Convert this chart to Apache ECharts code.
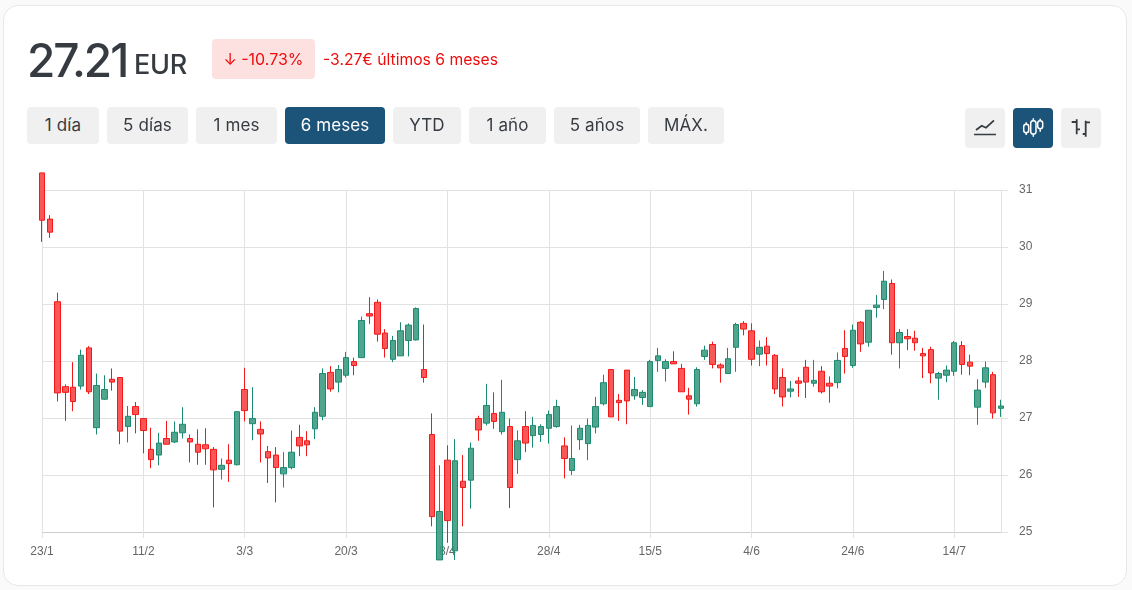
<!DOCTYPE html>
<html>
<head>
<meta charset="utf-8">
<title>27.21 EUR</title>
<script src="https://cdn.jsdelivr.net/npm/echarts@6/dist/echarts.min.js"></script>
<style>
	html, body { margin: 0; padding: 0; background: #fafafa; }
	body { width: 1132px; height: 590px; position: relative; overflow: hidden; font-family: Inter, sans-serif; color: #363b42; }
	.card { position: absolute; left: 3px; top: 5px; width: 1122px; height: 579px; background: #fff; border: 1px solid #e8e8e8; border-radius: 15px; }
	.price { position: absolute; left: 27px; top: 32px; font-size: 46px; line-height: 56px; font-weight: 500; letter-spacing: -2px; }
	.unit { position: absolute; left: 134px; top: 47px; font-size: 27px; line-height: 36px; font-weight: 500; letter-spacing: -0.3px; }
	.badge { position: absolute; left: 212px; top: 39px; width: 103px; height: 40px; line-height: 40px; background: #fde0e0; border-radius: 4px; color: #ee0d0d; font-size: 16px; text-align: center; }
	.delta { position: absolute; left: 323px; top: 40px; line-height: 40px; color: #ee0d0d; font-size: 15.7px; }
	.btn { position: absolute; top: 107px; height: 37px; line-height: 37px; background: #f0f0f0; border-radius: 4px; text-align: center; font-size: 17px; letter-spacing: 0.1px; }
	.icon { position: absolute; top: 108px; width: 40px; height: 40px; background: #f0f0f0; border-radius: 4px; }
	.on { background: #1c5378; color: #fff; }
	#chart { position: absolute; left: 0; top: 0; width: 1132px; height: 590px; }
</style>
</head>
<body>
<div class="card"></div>
<div id="chart"></div>
<div class="price">27.21</div>
<div class="unit">EUR</div>
<div class="badge">↓ -10.73%</div>
<div class="delta">-3.27€ últimos 6 meses</div>
<div class="btn" style="left:27px;width:72px">1 día</div>
<div class="btn" style="left:107px;width:81px">5 días</div>
<div class="btn" style="left:196px;width:81px">1 mes</div>
<div class="btn on" style="left:285px;width:100px">6 meses</div>
<div class="btn" style="left:393px;width:68px">YTD</div>
<div class="btn" style="left:469px;width:77px">1 año</div>
<div class="btn" style="left:554px;width:86px">5 años</div>
<div class="btn" style="left:648px;width:76px">MÁX.</div>
<div class="icon" style="left:965px">
	<svg width="40" height="40" fill="none" stroke="#363b42" stroke-width="1.7">
		<path d="M9 26.500h22M11 22l5.700-4.300 4.300 2 8-7.400"/>
	</svg>
</div>
<div class="icon on" style="left:1013px">
	<svg width="40" height="40" fill="none" stroke="#fff" stroke-width="1.5">
		<rect x="10.700" y="16.300" width="5" height="8.400" rx="2.500"/><path d="M13.200 14.300v2M13.200 24.700v2.300"/>
		<rect x="17.700" y="12.700" width="5.300" height="13.300" rx="2.600"/><path d="M20.300 10.300v2.400M20.300 26v2.700"/>
		<rect x="24.700" y="12.700" width="5" height="8" rx="2.500"/><path d="M27.200 10.700v2M27.200 20.700v3"/>
	</svg>
</div>
<div class="icon" style="left:1061px">
	<svg width="40" height="40" fill="none" stroke="#363b42" stroke-width="1.8">
		<path d="M15.700 11.300v15M10.700 14h5M15.700 21.300h3.300M24.700 12.700v16M21.700 26h3M24.700 14.300h4.300"/>
	</svg>
</div>

<script>
	// 1 etiqueta cada 13 sesiones
	const tickLabels = ['23/1', '11/2', '3/3', '20/3', '8/4', '28/4', '15/5', '4/6', '24/6', '14/7'];
	const tickEvery = 13;

	const opens = [
		31.30, 30.49, 29.04, 27.55, 27.54, 27.56, 28.23, 26.83, 27.33, 27.68,
		27.71, 26.85, 27.20, 26.99, 26.45, 26.35, 26.64, 26.58, 26.74, 26.64,
		26.54, 26.53, 26.45, 26.10, 26.26, 26.18, 27.50, 26.90, 26.80, 26.41,
		26.35, 26.02, 26.13, 26.66, 26.60, 26.81, 27.03, 27.80, 27.63, 27.75,
		27.99, 28.06, 28.83, 29.03, 28.49, 28.03, 28.09, 28.36, 28.37, 27.85,
		26.71, 24.51, 26.26, 24.67, 25.89, 25.91, 26.99, 26.91, 27.08, 26.76,
		26.85, 26.27, 26.85, 26.69, 26.71, 26.82, 26.85, 26.51, 26.08, 26.62,
		26.55, 26.84, 27.25, 27.85, 27.31, 27.84, 27.39, 27.36, 27.20, 28.01,
		27.87, 27.99, 27.87, 27.39, 27.25, 28.08, 28.29, 27.93, 27.78, 28.24,
		28.66, 28.53, 28.12, 28.26, 28.10, 27.71, 27.47, 27.65, 27.89, 27.61,
		27.82, 27.61, 27.62, 28.22, 27.92, 28.68, 28.33, 28.94, 29.08, 29.36,
		28.32, 28.43, 28.40, 28.13, 28.20, 27.70, 27.75, 27.82, 28.27, 27.98,
		27.19, 27.63, 27.76, 27.17
	];
	const closes = [
		30.47, 30.26, 27.44, 27.45, 27.29, 28.10, 27.46, 27.57, 27.50, 27.63,
		26.77, 27.03, 27.06, 26.78, 26.27, 26.56, 26.54, 26.75, 26.89, 26.58,
		26.40, 26.46, 26.09, 26.17, 26.20, 27.11, 27.13, 26.99, 26.72, 26.30,
		26.13, 26.13, 26.40, 26.51, 26.53, 27.10, 27.78, 27.51, 27.85, 28.06,
		27.92, 28.71, 28.79, 28.47, 28.22, 28.36, 28.53, 28.63, 28.92, 27.71,
		25.27, 25.36, 25.20, 26.25, 25.78, 26.47, 26.79, 27.22, 26.94, 27.10,
		25.78, 26.60, 26.56, 26.87, 26.85, 27.06, 27.20, 26.29, 26.29, 26.82,
		26.87, 27.20, 27.62, 27.02, 27.27, 27.30, 27.50, 27.45, 27.99, 28.09,
		27.99, 27.95, 27.46, 27.33, 27.85, 28.19, 27.94, 27.88, 28.04, 28.64,
		28.56, 28.03, 28.24, 28.13, 27.51, 27.37, 27.51, 27.61, 27.63, 27.66,
		27.46, 27.56, 28.01, 28.08, 28.54, 28.30, 28.89, 28.98, 29.40, 28.32,
		28.50, 28.39, 28.32, 28.09, 27.79, 27.78, 27.84, 28.32, 27.94, 27.91,
		27.49, 27.88, 27.09, 27.21
	];
	const lows = [
		30.09, 30.16, 27.29, 26.95, 27.12, 27.50, 27.42, 26.71, 27.32, 27.48,
		26.54, 26.57, 26.73, 26.38, 26.12, 26.17, 26.54, 26.56, 26.64, 26.22,
		26.18, 26.18, 25.43, 25.92, 25.88, 26.17, 26.94, 26.61, 26.22, 25.86,
		25.52, 25.78, 26.10, 26.33, 26.33, 26.63, 26.96, 27.46, 27.45, 27.71,
		27.75, 28.05, 28.65, 28.34, 28.06, 27.98, 28.09, 28.08, 28.36, 27.62,
		25.10, 24.51, 24.81, 24.51, 25.10, 25.41, 26.60, 26.87, 26.81, 26.71,
		25.42, 26.02, 26.40, 26.48, 26.58, 26.55, 26.83, 25.94, 26.00, 26.44,
		26.26, 26.73, 27.22, 27.02, 26.95, 26.89, 27.32, 27.23, 27.20, 27.81,
		27.64, 27.95, 27.46, 27.06, 27.20, 28.02, 27.87, 27.62, 27.78, 27.81,
		28.45, 27.92, 27.91, 27.92, 27.42, 27.20, 27.36, 27.37, 27.35, 27.55,
		27.43, 27.27, 27.52, 27.78, 27.88, 28.16, 28.25, 28.76, 28.91, 28.11,
		27.87, 28.19, 28.18, 27.70, 27.61, 27.32, 27.63, 27.74, 27.76, 27.75,
		26.88, 27.53, 26.99, 27.02
	];
	const highs = [
		31.30, 30.56, 29.20, 27.59, 27.98, 28.20, 28.26, 27.78, 27.75, 27.87,
		27.71, 27.21, 27.28, 26.99, 26.83, 26.74, 26.95, 26.94, 27.19, 26.71,
		26.80, 26.82, 26.49, 26.29, 26.54, 27.12, 27.88, 27.54, 26.94, 26.51,
		26.49, 26.40, 26.78, 26.88, 26.77, 27.19, 27.87, 27.91, 27.93, 28.16,
		28.06, 28.78, 29.12, 29.08, 28.56, 28.44, 28.68, 28.66, 28.94, 28.64,
		27.08, 26.17, 26.52, 26.63, 26.35, 26.57, 27.04, 27.60, 27.45, 27.67,
		26.99, 26.78, 27.12, 27.02, 26.89, 27.13, 27.32, 26.66, 26.87, 26.88,
		26.99, 27.37, 27.76, 27.85, 27.42, 27.84, 27.72, 27.49, 28.02, 28.23,
		28.03, 28.17, 27.95, 27.53, 27.89, 28.27, 28.34, 27.96, 28.23, 28.67,
		28.70, 28.66, 28.36, 28.42, 28.12, 27.87, 27.65, 27.72, 28.02, 28.02,
		27.91, 27.73, 28.15, 28.54, 28.64, 28.70, 28.89, 29.16, 29.58, 29.43,
		28.56, 28.56, 28.53, 28.23, 28.25, 27.81, 27.92, 28.35, 28.35, 28.11,
		27.68, 27.99, 27.81, 27.32
	];

	const categories = opens.map((v, i) => (i % tickEvery === 0 ? tickLabels[i / tickEvery] : ''));
	const candles = opens.map((v, i) => [v, closes[i], lows[i], highs[i]]);

	const gridColor = '#e2e2e2';
	const labelFont = { color: '#666', fontSize: 12, fontFamily: 'Liberation Sans' };

	const chart = echarts.init(document.getElementById('chart'), null, { renderer: 'canvas' });
	chart.setOption({
		animation: false,
		grid: { left: 42, right: 131, top: 190, bottom: 58 },
		xAxis: {
			type: 'category',
			data: categories,
			boundaryGap: false,
			axisLine: { lineStyle: { color: '#cdcdcd' } },
			axisTick: { interval: tickEvery - 1, length: 6, lineStyle: { color: gridColor } },
			axisLabel: { ...labelFont, interval: tickEvery - 1, margin: 14 },
			splitLine: { show: true, interval: tickEvery - 1, lineStyle: { color: gridColor } }
		},
		yAxis: {
			type: 'value',
			position: 'right',
			min: 25,
			max: 31,
			interval: 1,
			axisLine: { show: true, lineStyle: { color: gridColor } },
			axisTick: { show: true, length: 7, lineStyle: { color: gridColor } },
			axisLabel: { ...labelFont, margin: 18, padding: [2, 0, 0, 0] },
			splitLine: { lineStyle: { color: gridColor } }
		},
		series: [{
			type: 'candlestick',
			data: candles,
			clip: false,
			barWidth: 6,
			z: 5,
			itemStyle: {
				color: 'rgba(60,155,130,0.9)',
				borderColor: '#1b8a70',
				color0: 'rgba(250,70,70,0.9)',
				borderColor0: '#f41818',
				borderWidth: 1
			}
		}]
	});
</script>
</body>
</html>
